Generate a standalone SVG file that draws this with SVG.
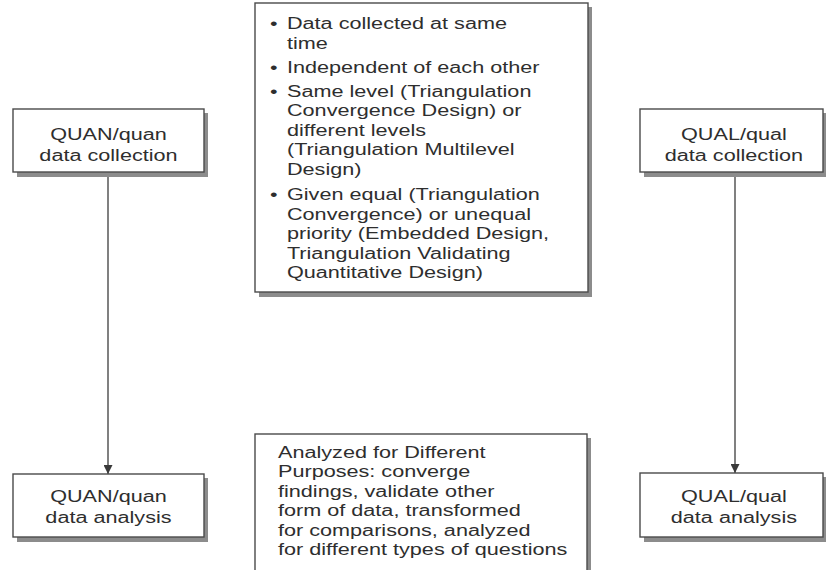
<svg xmlns="http://www.w3.org/2000/svg" width="826" height="570" viewBox="0 0 826 570">
<style>
.box{fill:#ffffff;stroke:#4a4a4a;stroke-width:1.4}
.shadow{fill:#8c8c8c}
.t{font-family:"Liberation Sans",Arial,sans-serif;font-size:16.4px;fill:#2e2e2e}
.c{text-anchor:middle}
.conn{stroke:#4a4a4a;stroke-width:1.4;fill:none}
</style>
<defs>
<marker id="arr" viewBox="0 0 10 10" refX="10" refY="5" markerWidth="9" markerHeight="9" markerUnits="userSpaceOnUse" orient="auto">
<path d="M0,0 L10,5 L0,10 z" fill="#3a3a3a"/>
</marker>
</defs>
<rect width="826" height="570" fill="#ffffff"/>

<g id="connectors">
<line class="conn" x1="108" y1="172" x2="108" y2="474" marker-end="url(#arr)"/>
<line class="conn" x1="735" y1="172" x2="735" y2="473" marker-end="url(#arr)"/>
</g>

<g id="quan-collection">
<rect class="shadow" x="17" y="113" width="191" height="64"/>
<rect class="box" x="13" y="109" width="191" height="63"/>
<g transform="scale(1.32,1)">
<text class="t c" x="82.2" y="140">QUAN/quan</text>
<text class="t c" x="82.2" y="161">data collection</text>
</g>
</g>

<g id="qual-collection">
<rect class="shadow" x="644" y="113" width="184" height="64"/>
<rect class="box" x="640" y="109" width="183" height="63"/>
<g transform="scale(1.32,1)">
<text class="t c" x="556" y="140">QUAL/qual</text>
<text class="t c" x="556" y="161">data collection</text>
</g>
</g>

<g id="quan-analysis">
<rect class="shadow" x="17" y="478" width="191" height="64"/>
<rect class="box" x="13" y="474" width="191" height="63"/>
<g transform="scale(1.32,1)">
<text class="t c" x="82.2" y="502">QUAN/quan</text>
<text class="t c" x="82.2" y="523">data analysis</text>
</g>
</g>

<g id="qual-analysis">
<rect class="shadow" x="644" y="477" width="184" height="65"/>
<rect class="box" x="640" y="473" width="183" height="64"/>
<g transform="scale(1.32,1)">
<text class="t c" x="556" y="502">QUAL/qual</text>
<text class="t c" x="556" y="523">data analysis</text>
</g>
</g>

<g id="timing-box">
<rect class="shadow" x="259" y="7" width="333" height="290"/>
<rect class="box" x="255" y="3" width="333" height="289"/>
<g transform="scale(1.32,1)">
<text class="t c" x="207.5" y="29">•</text>
<text class="t" x="217.4" y="29">Data collected at same</text>
<text class="t" x="217.4" y="49">time</text>
<text class="t c" x="207.5" y="73">•</text>
<text class="t" x="217.4" y="73">Independent of each other</text>
<text class="t c" x="207.5" y="97">•</text>
<text class="t" x="217.4" y="97">Same level (Triangulation</text>
<text class="t" x="217.4" y="116.5">Convergence Design) or</text>
<text class="t" x="217.4" y="136">different levels</text>
<text class="t" x="217.4" y="155.5">(Triangulation Multilevel</text>
<text class="t" x="217.4" y="175">Design)</text>
<text class="t c" x="207.5" y="200">•</text>
<text class="t" x="217.4" y="200">Given equal (Triangulation</text>
<text class="t" x="217.4" y="220">Convergence) or unequal</text>
<text class="t" x="217.4" y="239.5">priority (Embedded Design,</text>
<text class="t" x="217.4" y="259">Triangulation Validating</text>
<text class="t" x="217.4" y="278.5">Quantitative Design)</text>
</g>
</g>

<g id="analysis-box">
<rect class="shadow" x="259" y="438" width="332" height="140"/>
<rect class="box" x="255" y="434" width="332" height="140"/>
<g transform="scale(1.32,1)">
<text class="t" x="210.6" y="458">Analyzed for Different</text>
<text class="t" x="210.6" y="477.5">Purposes: converge</text>
<text class="t" x="210.6" y="497">findings, validate other</text>
<text class="t" x="210.6" y="516.5">form of data, transformed</text>
<text class="t" x="210.6" y="536">for comparisons, analyzed</text>
<text class="t" x="210.6" y="555.5">for different types of questions</text>
</g>
</g>
</svg>
